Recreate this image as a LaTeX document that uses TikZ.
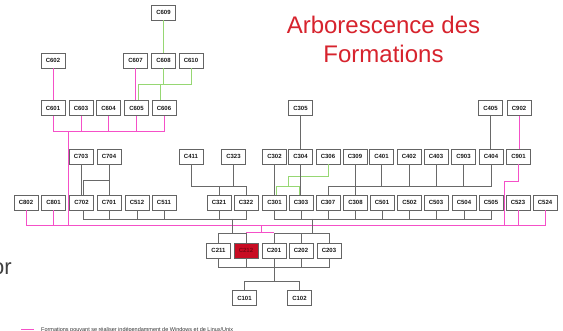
\documentclass[tikz,border=0pt]{standalone}
\usepackage{fontspec}
\setmainfont{Liberation Sans}
\definecolor{boxline}{RGB}{100,100,100}
\definecolor{treeline}{RGB}{105,105,105}
\definecolor{libre}{RGB}{245,80,200}
\definecolor{winlink}{RGB}{150,215,115}
\definecolor{titlered}{RGB}{215,35,45}
\definecolor{current}{RGB}{200,12,35}
\tikzset{
  course/.style={draw=boxline, line width=0.95pt, fill=white, minimum width=24pt,
    minimum height=15pt, inner sep=0pt, font=\fontsize{6}{7}\selectfont\bfseries, text=black!90},
  link/.style={draw=treeline, line width=0.9pt},
  freelink/.style={draw=libre, line width=1pt},
  greenlink/.style={draw=winlink, line width=0.9pt},
}
\begin{document}
\begin{tikzpicture}[x=1pt,y=-1pt]
\fill[white] (0,0) rectangle (563,331);
\useasboundingbox (0,0) rectangle (563,331);

% title
\node[anchor=base, font=\fontsize{24}{28}\selectfont, text=titlered, inner sep=0] (title1) at (383.5,33.5) {Arborescence des};
\node[anchor=base, font=\fontsize{24}{28}\selectfont, text=titlered, inner sep=0] (title2) at (383.5,62.5) {Formations};

% course boxes
\node[course] (c609) at (163.5,12.5) {C609};

\node[course] (c602) at (53,60.5) {C602};
\node[course] (c607) at (135.5,60.5) {C607};
\node[course] (c608) at (163.5,60.5) {C608};
\node[course] (c610) at (191,60.5) {C610};

\node[course] (c601) at (53,108) {C601};
\node[course] (c603) at (81,108) {C603};
\node[course] (c604) at (108.5,108) {C604};
\node[course] (c605) at (136.5,108) {C605};
\node[course] (c606) at (164,108) {C606};
\node[course] (c305) at (300.5,108) {C305};
\node[course] (c405) at (490.5,108) {C405};
\node[course] (c902) at (519,108) {C902};

\node[course] (c703) at (81,156.5) {C703};
\node[course] (c704) at (109,156.5) {C704};
\node[course] (c411) at (191,156.5) {C411};
\node[course] (c323) at (233.5,156.5) {C323};
\node[course] (c302) at (274.5,156.5) {C302};
\node[course] (c304) at (300.5,156.5) {C304};
\node[course] (c306) at (328,156.5) {C306};
\node[course] (c309) at (355,156.5) {C309};
\node[course] (c401) at (381.5,156.5) {C401};
\node[course] (c402) at (409,156.5) {C402};
\node[course] (c403) at (436,156.5) {C403};
\node[course] (c903) at (463.5,156.5) {C903};
\node[course] (c404) at (491,156.5) {C404};
\node[course] (c901) at (518.5,156.5) {C901};

\node[course] (c802) at (26,202.5) {C802};
\node[course] (c801) at (53.5,202.5) {C801};
\node[course] (c702) at (81.5,202.5) {C702};
\node[course] (c701) at (109,202.5) {C701};
\node[course] (c512) at (137,202.5) {C512};
\node[course] (c511) at (164,202.5) {C511};
\node[course] (c321) at (219,202.5) {C321};
\node[course] (c322) at (246,202.5) {C322};
\node[course] (c301) at (274.5,202.5) {C301};
\node[course] (c303) at (301,202.5) {C303};
\node[course] (c307) at (328,202.5) {C307};
\node[course] (c308) at (355.5,202.5) {C308};
\node[course] (c501) at (382,202.5) {C501};
\node[course] (c502) at (409.5,202.5) {C502};
\node[course] (c503) at (436,202.5) {C503};
\node[course] (c504) at (464,202.5) {C504};
\node[course] (c505) at (491,202.5) {C505};
\node[course] (c523) at (518,202.5) {C523};
\node[course] (c524) at (545,202.5) {C524};

\node[course] (c211) at (218.5,250.5) {C211};
\node[course, fill=current, text=current!60!black] (c212) at (246,250.5) {C212};
\node[course] (c201) at (274,250.5) {C201};
\node[course] (c202) at (301,250.5) {C202};
\node[course] (c203) at (329,250.5) {C203};

\node[course] (c101) at (244.5,298) {C101};
\node[course] (c102) at (299.5,298) {C102};

% levels of the horizontal rails
\coordinate (b6) at (68,132);
\coordinate (pbus) at (26,226);
\coordinate (k9) at (504,182);
\coordinate (pf) at (261,233);
\coordinate (k7) at (83,180);
\coordinate (k4) at (191,186);
\coordinate (gb) at (83,219);
\coordinate (d1) at (232,219);
\coordinate (d2) at (312,219);
\coordinate (hb) at (219,267);
\coordinate (lb) at (242,281);
\coordinate (g6) at (138,84);
\coordinate (g6b) at (160,84);
\coordinate (g1) at (288,176);
\coordinate (g2) at (288,186);
\coordinate (g301) at ([xshift=2pt]c301.north);
\coordinate (g303) at ([xshift=-2pt]c303.north);

% courses that run on their own (pink)
\draw[freelink] (c602) -- (c601);
\draw[freelink] (c607.south) -- (c607.south |- c605.north);
\draw[freelink] (c601.south) |- (c606.south |- b6) -- (c606.south);
\foreach \n in {c603,c604,c605} \draw[freelink] (\n.south) -- (\n.south |- b6);
\draw[freelink] (b6) -- (b6 |- pbus);
\draw[freelink] (c802.south) |- (c524.south |- pbus) -- (c524.south);
\foreach \n in {c801,c523} \draw[freelink] (\n.south) -- (\n.south |- pbus);
\draw[freelink] (c902.south) -- (c902.south |- c901.north);
\draw[freelink] (c901.south) |- (k9) -- (k9 |- pbus);
\draw[freelink] (pf |- pbus) -- (pf);
\draw[freelink] (c212.north |- pf) -- (c201.north |- pf);

% green links
\draw[greenlink] (c609) -- (c608);
\draw[greenlink] (c608.south) -- (c608.south |- g6);
\draw[greenlink] (c610.south) |- (g6) -- (g6 |- c605.north);
\draw[greenlink] (g6b) -- (g6b |- c606.north);
\draw[greenlink] (c306.south) |- (g1) -- (g2);
\draw[greenlink] (g301) |- (g303 |- g2) -- (g303);

% prerequisite tree (grey)
\draw[link] (c305.south) -- (c305.south |- c304.north);
\draw[link] (c304.south) -- (c304.south |- c303.north);
\draw[link] (c405.south) -- (c405.south |- c404.north);
\draw[link] (c302.south) -- (c302.south |- c301.north);
\draw[link] (c309.south) -- (c309.south |- c308.north);
\draw[link] (c703.south) -- (c703.south |- c702.north);
\draw[link] (c704.south) -- (c704.south |- c701.north);
\draw[link] (c704.south |- k7) -- (k7) -- (k7 |- c702.north);

\draw[link] (c411.south) |- (c322.north |- k4) -- (c322.north);
\draw[link] (c323.south) -- (c323.south |- k4);
\draw[link] (c321.north) -- (c321.north |- k4);

\draw[link] (c307.north) |- (c404.south |- k4) -- (c404.south);
\foreach \n in {c401,c402,c403,c903} \draw[link] (\n.south) -- (\n.south |- k4);

\draw[link] (gb |- c702.south) -- (gb) -- (c322.south |- gb) -- (c322.south);
\foreach \n in {c701,c512,c511,c321} \draw[link] (\n.south) -- (\n.south |- gb);
\draw[link] (d1) -- (d1 |- pf);

\draw[link] (c301.south) |- (c505.south |- gb) -- (c505.south);
\foreach \n in {c303,c307,c308,c501,c502,c503,c504} \draw[link] (\n.south) -- (\n.south |- gb);
\draw[link] (d2) -- (d2 |- pf);

\draw[link] (c211.north) |- (c212.north |- pf) -- (c212.north);
\draw[link] (c201.north) |- (c203.north |- pf) -- (c203.north);
\draw[link] (c202.north) -- (c202.north |- pf);

\draw[link] (c211.south) |- (c203.south |- hb) -- (c203.south);
\foreach \n in {c212,c202} \draw[link] (\n.south) -- (\n.south |- hb);
\draw[link] (c201.south) -- (c201.south |- lb);
\draw[link] (c101.north) |- (c102.north |- lb) -- (c102.north);

% side text and legend
\node[anchor=base east, font=\fontsize{22}{26}\selectfont, text=black!75, inner sep=0] (orfrag) at (12,275) {or};
\draw[freelink] (21,330) -- (34,330);
\node[anchor=north west, font=\fontsize{5.5}{6}\selectfont, text=black!80, inner sep=0] (legend) at (41,327.6) {Formations pouvant se réaliser indépendamment de Windows et de Linux/Unix};
\end{tikzpicture}
\end{document}
